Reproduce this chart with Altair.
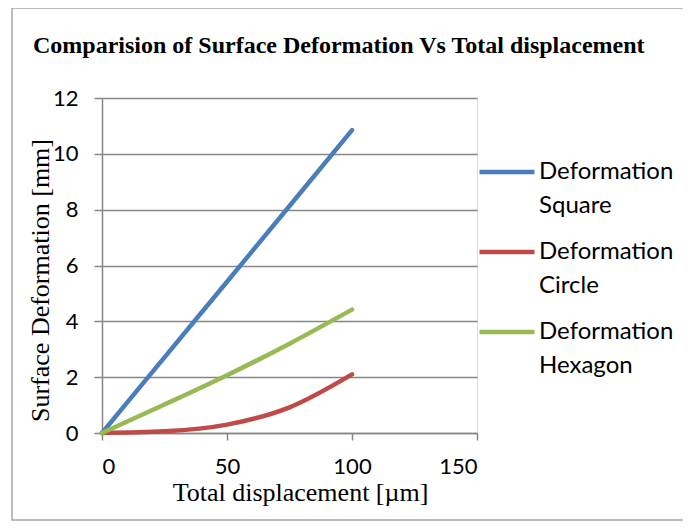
import altair as alt
import pandas as pd

displacement = [0, 25, 50, 75, 100]
square = [0, 2.71, 5.42, 8.13, 10.85]
circle = [0, 0.06, 0.3, 0.92, 2.1]
hexagon = [0, 1.02, 2.07, 3.2, 4.42]
series_names = ["Deformation Square", "Deformation Circle", "Deformation Hexagon"]
series_colors = ["#4A7EBB", "#BE4B48", "#98B954"]
x_ticks = [0, 50, 100, 150]
y_ticks = [0, 2, 4, 6, 8, 10, 12]

rows = []
for name, vals in zip(series_names, [square, circle, hexagon]):
    for xv, yv in zip(displacement, vals):
        rows.append({"x": xv, "y": yv, "series": name})
df = pd.DataFrame(rows)

GRAY = "#868686"

lines = alt.Chart(df).mark_line(strokeWidth=4.5, strokeCap="round", interpolate="monotone").encode(
    x=alt.X("x:Q", scale=alt.Scale(domain=[0, 150], nice=False),
            axis=alt.Axis(values=x_ticks, title="Total displacement  [µm]", grid=False,
                          titleFont="Liberation Serif", titleFontSize=26, titleFontWeight="normal",
                          titleColor="black", titleX=198, titleY=59, titleBaseline="middle",
                          labelFont="Lato", labelFontSize=22, labelColor="black", labelPadding=16,
                          tickSize=7, tickColor=GRAY, domainColor=GRAY, tickWidth=1.5, domainWidth=1.5)),
    y=alt.Y("y:Q", scale=alt.Scale(domain=[0, 12], nice=False),
            axis=alt.Axis(values=y_ticks, title="Surface Deformation [mm]", grid=True, gridColor=GRAY,
                          gridWidth=1.5, titleFont="Liberation Serif", titleFontSize=26,
                          titleFontWeight="normal", titleColor="black", titleX=-62, titleY=182,
                          titleBaseline="middle",
                          labelFont="Lato", labelFontSize=22, labelColor="black", labelPadding=16,
                          tickSize=8, tickColor=GRAY, domainColor=GRAY, tickWidth=1.5, domainWidth=1.5)),
    color=alt.Color("series:N", sort=series_names,
                    scale=alt.Scale(domain=series_names, range=series_colors),
                    legend=alt.Legend(orient="none", legendX=375, legendY=44, title=None,
                                      symbolType="stroke", symbolStrokeWidth=4.5, symbolSize=3025,
                                      labelFont="Lato", labelFontSize=24, labelColor="black",
                                      labelExpr="split(datum.label, ' ')",
                                      labelBaseline="middle",
                                      rowPadding=4, labelOffset=2, padding=0)),
)

border = alt.Chart(pd.DataFrame({"a": [0]})).mark_rect(fill=None, stroke="#A6A6A6", strokeWidth=1.5).encode(
    x=alt.value(-90), x2=alt.value(640), y=alt.value(-90), y2=alt.value(422)
)

chart = alt.layer(border, lines).properties(
    width=375, height=335,
    title=alt.TitleParams("Comparision of Surface Deformation Vs Total displacement",
                          font="Liberation Serif", fontSize=24, fontWeight="bold", color="black",
                          anchor="start", frame="group", baseline="alphabetic", dx=-69, dy=70, offset=0),
    autosize=alt.AutoSizeParams(type="none"),
    padding={"left": 94, "top": 90, "right": 206, "bottom": 88},
).configure_view(stroke=None).configure(
    background="white", style={"guide-label": {"lineHeight": 34}}
)

chart.save("out.html", embed_options={"renderer": "svg", "actions": False})
